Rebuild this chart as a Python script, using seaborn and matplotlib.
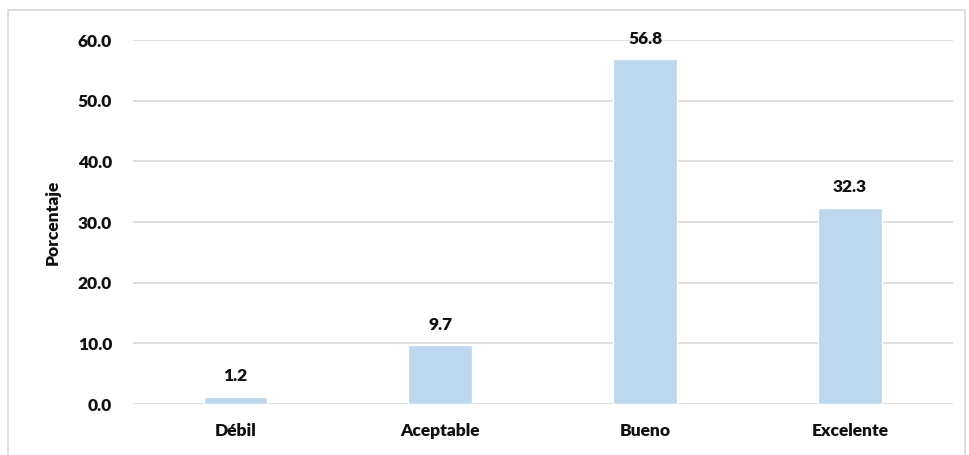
import matplotlib.pyplot as plt
import seaborn as sns
import pandas as pd
from matplotlib.patches import Rectangle

sns.set_style("white")
plt.rcParams['font.family'] = ['Lato', 'DejaVu Sans']

# Data
categorias = ["Débil", "Aceptable", "Bueno", "Excelente"]
porcentajes = [1.2, 9.7, 56.8, 32.3]

df = pd.DataFrame({"Nivel": categorias, "Porcentaje": porcentajes})

fig = plt.figure(figsize=(9.7, 4.55), dpi=100)
ax = fig.add_axes([0.137, 0.112, 0.845, 0.80])

sns.barplot(x="Nivel", y="Porcentaje", data=df, color="#BDD7EE",
            saturation=1, width=0.31, ax=ax)

# Value labels
for i, v in enumerate(porcentajes):
    ax.text(i, v + 3.4, f"{v:.1f}", ha="center", va="center",
            fontsize=12.5, fontweight="heavy", color="#111111")

ax.set_ylim(0, 60)
ax.set_yticks(range(0, 61, 10))
ax.set_yticklabels([f"{t:.1f}" for t in range(0, 61, 10)])
ax.grid(axis="y", color="#D9D9D9", linewidth=1.2)
ax.set_axisbelow(True)
for s in ax.spines.values():
    s.set_visible(False)
ax.tick_params(axis="both", length=0, labelsize=12.5, colors="#111111")
ax.tick_params(axis="y", pad=15)
ax.tick_params(axis="x", pad=14)
for lbl in ax.get_xticklabels() + ax.get_yticklabels():
    lbl.set_fontweight("heavy")
ax.set_xlabel("")
ax.set_ylabel("Porcentaje", fontsize=12.5, fontweight="heavy", color="#111111", labelpad=12)

# Outer chart border
fig.patches.append(Rectangle((8 / 970, -0.01), 957 / 970, 1 - 10 / 455 + 0.01,
                             transform=fig.transFigure, fill=False,
                             edgecolor="#D9D9D9", linewidth=1.2))

fig.savefig("out.png", dpi=100)
